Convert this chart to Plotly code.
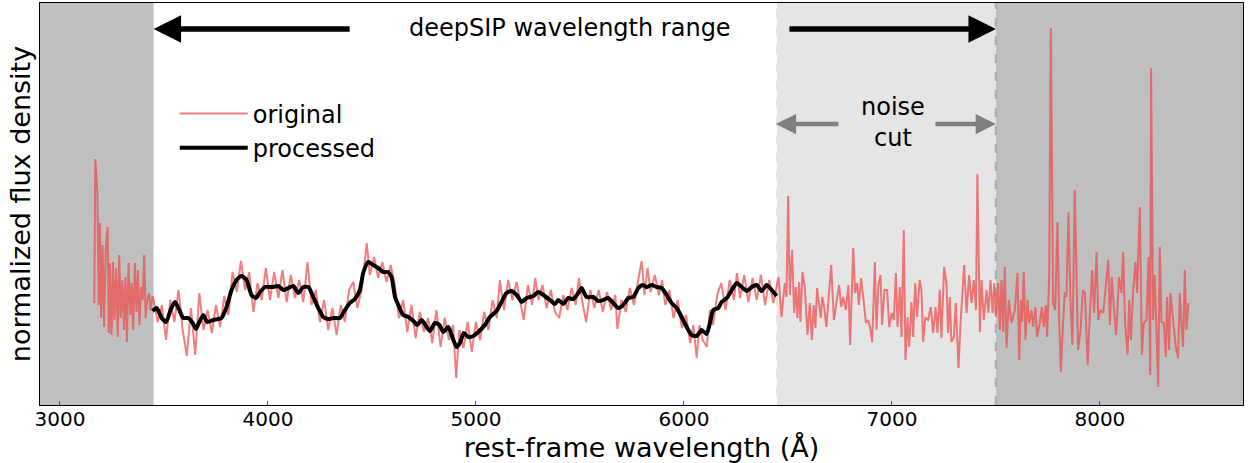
import plotly.graph_objects as go

# ---------------- data ----------------
orig_wave = [
    3165, 3170, 3180, 3186, 3192, 3198, 3205, 3212, 3220, 3229, 3235, 3240, 3248, 3255, 3262, 3270,
    3278, 3285, 3292, 3300, 3308, 3315, 3322, 3330, 3338, 3345, 3352, 3360, 3368, 3375, 3382, 3390,
    3398, 3405, 3412, 3420, 3428, 3435, 3445,
    3450, 3470, 3490, 3510, 3530, 3550, 3570, 3590, 3610, 3630, 3650, 3670, 3690, 3710, 3730, 3750,
    3770, 3790, 3810, 3830, 3850, 3870, 3890, 3910, 3930, 3950, 3970, 3990, 4010, 4030, 4050, 4070,
    4090, 4110, 4130, 4150, 4170, 4190, 4210, 4230, 4250, 4270, 4290, 4310, 4330, 4350, 4370, 4390,
    4410, 4430, 4450, 4465, 4475, 4490, 4510, 4530, 4550, 4570, 4590, 4610, 4630, 4650, 4670, 4690,
    4710, 4730, 4750, 4770, 4790, 4810, 4830, 4850, 4870, 4890, 4905, 4920, 4940, 4960, 4980, 5000,
    5020, 5040, 5060, 5080, 5100, 5115, 5135, 5155, 5175, 5195, 5215, 5230, 5250, 5270, 5285, 5300,
    5320, 5340, 5360, 5380, 5400, 5420, 5440, 5460, 5480, 5495, 5510, 5530, 5550, 5570, 5590, 5610,
    5630, 5650, 5670, 5680, 5700, 5720, 5740, 5760, 5780, 5797, 5810, 5825, 5840, 5860, 5880, 5895,
    5910, 5930, 5950, 5970, 5990, 6010, 6030, 6045, 6061, 6075, 6090, 6110, 6125, 6140, 6160, 6180,
    6200, 6220, 6240, 6255, 6270, 6290, 6310, 6330, 6350, 6370, 6390, 6410, 6430, 6442,
    6455, 6469, 6485, 6493, 6501, 6509, 6520, 6530, 6538, 6546, 6554, 6560, 6570, 6581, 6594, 6605,
    6615, 6624, 6632, 6640, 6650, 6658, 6665, 6674, 6685, 6696, 6708, 6721, 6733, 6746, 6756, 6765,
    6778, 6791, 6799, 6814, 6823, 6833, 6841, 6852, 6865, 6875, 6886, 6897, 6905, 6918, 6926, 6935,
    6945, 6953, 6964, 6977, 6987, 6999, 7009, 7019, 7027, 7038, 7046, 7057, 7065, 7075, 7083, 7094,
    7102, 7112, 7121, 7133, 7142, 7150, 7160, 7174, 7187, 7198, 7210, 7219, 7230, 7238, 7251, 7262,
    7270, 7278, 7286, 7298, 7307, 7320, 7331, 7347, 7359, 7371, 7383, 7394, 7404, 7411, 7423, 7431,
    7442, 7455, 7464, 7474, 7484, 7492, 7500, 7511, 7519, 7527, 7535, 7543, 7551, 7562, 7575, 7591,
    7604, 7612, 7620, 7626, 7634, 7642, 7652, 7660, 7671, 7679, 7690, 7698, 7711, 7721, 7730, 7740,
    7746, 7756, 7764, 7775, 7785, 7796, 7804, 7812, 7823, 7831, 7839, 7849, 7858, 7868, 7879, 7887,
    7895, 7907, 7918, 7928, 7941, 7952, 7963, 7972, 7984, 7992, 8003, 8016, 8027, 8040, 8048, 8057,
    8067, 8078, 8092, 8104, 8112, 8121, 8133, 8141, 8149, 8160, 8171, 8179, 8192, 8202, 8211, 8224,
    8234, 8242, 8246, 8256, 8264, 8272, 8280, 8288, 8296, 8307, 8317, 8323, 8333, 8339, 8352, 8365,
    8376, 8384, 8392, 8400, 8408, 8416, 8426,
]
orig_flux = [
    1.02, 2.46, 2.13, 1.00, 1.82, 0.87, 1.60, 0.78, 1.55, 1.78, 0.72, 1.42, 0.70, 1.43, 0.85, 1.37,
    0.68, 1.50, 0.87, 1.25, 0.75, 1.28, 0.63, 1.42, 0.90, 1.22, 0.75, 1.42, 0.93, 1.35, 0.80, 1.18,
    1.05, 1.50, 0.87, 1.05, 1.12, 0.95, 1.09,
    1.05, 0.83, 1.00, 0.65, 1.05, 0.83, 1.15, 0.75, 0.49, 0.97, 0.50, 1.12, 0.75, 0.95, 0.72, 1.00,
    0.78, 1.09, 0.90, 1.33, 1.13, 1.44, 1.15, 1.33, 0.93, 1.22, 1.05, 1.37, 1.05, 1.33, 1.07, 1.35,
    1.03, 1.30, 1.07, 1.25, 1.03, 1.43, 1.00, 1.15, 0.83, 1.05, 0.75, 0.97, 0.70, 1.00, 0.83, 1.15,
    1.23, 0.97, 1.15, 1.43, 1.62, 1.30, 1.48, 1.27, 1.43, 1.23, 1.40, 1.20, 0.87, 1.05, 0.73, 1.00,
    0.67, 0.93, 0.73, 0.87, 0.62, 0.95, 0.58, 0.87, 0.65, 0.80, 0.27, 0.75, 0.57, 0.83, 0.53, 0.83,
    0.65, 0.93, 0.75, 1.05, 0.87, 1.25, 0.95, 1.25, 1.05, 1.23, 1.00, 0.85, 1.20, 1.00, 1.27, 1.05,
    1.20, 0.97, 1.15, 0.93, 0.87, 1.10, 0.95, 1.17, 1.00, 1.27, 1.05, 0.83, 1.15, 0.97, 1.15, 0.93,
    1.13, 0.95, 1.10, 0.76, 1.05, 0.93, 1.17, 1.00, 1.25, 1.44, 1.10, 1.37, 1.13, 1.30, 1.10, 1.25,
    1.00, 1.15, 0.87, 1.05, 0.77, 0.90, 0.62, 0.80, 0.47, 0.80, 0.65, 0.58, 0.95, 0.80, 1.10, 1.22,
    0.95, 1.25, 1.05, 1.32, 1.07, 1.30, 1.03, 1.27, 1.05, 1.30, 1.00, 1.25, 1.02, 1.15,
    1.28, 0.88, 1.22, 1.08, 2.09, 1.10, 1.55, 0.92, 1.18, 0.87, 1.23, 0.83, 1.33, 1.18, 0.70, 1.02,
    0.65, 1.00, 0.77, 1.17, 0.98, 0.87, 1.08, 0.98, 0.78, 1.12, 1.40, 0.85, 1.02, 1.20, 0.98, 1.08,
    0.95, 1.20, 0.60, 1.57, 1.12, 1.22, 1.00, 1.27, 1.02, 0.82, 0.85, 0.75, 0.63, 1.43, 0.75, 1.20,
    1.30, 0.80, 1.15, 1.15, 0.78, 0.92, 0.85, 1.32, 0.78, 1.18, 0.68, 1.75, 0.45, 0.88, 0.58, 1.03,
    0.68, 1.22, 0.88, 1.25, 1.15, 0.63, 0.87, 0.85, 0.98, 0.72, 0.98, 0.72, 1.15, 0.67, 1.38, 1.22,
    0.72, 1.08, 0.63, 0.68, 1.02, 0.37, 0.85, 1.40, 0.92, 1.30, 1.02, 1.25, 0.95, 2.31, 0.73, 1.25,
    0.85, 1.15, 0.92, 1.25, 0.92, 1.22, 0.88, 1.22, 0.75, 1.25, 0.73, 1.38, 0.57, 1.05, 0.82, 0.95,
    1.32, 0.45, 1.05, 0.83, 1.33, 0.65, 1.05, 0.82, 0.95, 0.78, 0.98, 0.68, 0.82, 0.98, 0.78, 1.00,
    0.68, 1.28, 3.77, 1.02, 0.95, 1.83, 0.88, 0.33, 0.82, 1.13, 1.08, 1.93, 1.08, 0.60, 2.15, 1.15,
    0.55, 0.75, 1.15, 1.12, 0.40, 0.92, 1.35, 0.92, 1.53, 0.85, 0.95, 0.92, 1.15, 1.45, 0.80, 1.28,
    0.98, 0.70, 1.28, 1.12, 1.53, 0.82, 0.50, 1.05, 0.65, 1.15, 1.43, 1.12, 1.98, 0.50, 0.82, 0.85,
    1.48, 0.30, 3.37, 0.85, 1.30, 0.83, 0.18, 1.58, 0.83, 0.82, 0.48, 1.08, 0.55, 1.12, 0.82, 0.58,
    0.47, 1.12, 0.82, 0.58, 1.35, 0.75, 1.02,
]

proc_wave = [
    3445, 3465, 3489, 3510, 3532, 3553, 3574, 3593, 3617, 3638, 3654, 3670, 3689, 3708, 3737, 3777,
    3801, 3825, 3849, 3873, 3897, 3921, 3942, 3962, 3986, 4026, 4050, 4074, 4098, 4122, 4146, 4170,
    4194, 4218, 4242, 4266, 4290, 4314, 4346, 4370, 4394, 4418, 4442, 4458, 4482, 4506, 4530, 4554,
    4578, 4594, 4611, 4627, 4650, 4675, 4699, 4718, 4739, 4763, 4779, 4803, 4824, 4843, 4867, 4888,
    4907, 4923, 4942, 4963, 4987, 5011, 5043, 5067, 5099, 5123, 5147, 5171, 5196, 5220, 5244, 5276,
    5300, 5324, 5356, 5380, 5396, 5420, 5444, 5468, 5492, 5508, 5532, 5564, 5588, 5612, 5636, 5660,
    5684, 5708, 5733, 5757, 5781, 5801, 5821, 5845, 5869, 5893, 5917, 5941, 5965, 5989, 6013, 6037,
    6061, 6085, 6109, 6125, 6141, 6165, 6181, 6206, 6230, 6254, 6278, 6302, 6326, 6350, 6374, 6398,
    6422, 6446,
]
proc_flux = [
    0.94, 0.97, 0.87, 0.83, 0.95, 1.03, 0.95, 0.87, 0.87, 0.82, 0.76, 0.83, 0.90, 0.83, 0.85, 0.87,
    0.98, 1.15, 1.25, 1.29, 1.25, 1.10, 1.07, 1.13, 1.18, 1.18, 1.19, 1.15, 1.17, 1.19, 1.12, 1.18,
    1.18, 1.08, 0.97, 0.88, 0.86, 0.87, 0.87, 0.95, 1.02, 1.06, 1.15, 1.32, 1.43, 1.40, 1.37, 1.33,
    1.33, 1.28, 1.08, 1.00, 0.90, 0.88, 0.84, 0.80, 0.85, 0.78, 0.74, 0.82, 0.80, 0.73, 0.78, 0.67,
    0.58, 0.62, 0.72, 0.68, 0.69, 0.73, 0.80, 0.88, 0.94, 1.03, 1.12, 1.14, 1.10, 1.03, 1.07, 1.09,
    1.13, 1.10, 1.05, 1.01, 1.05, 1.01, 1.07, 1.06, 1.12, 1.17, 1.08, 1.08, 1.04, 1.05, 1.07, 1.02,
    0.97, 1.00, 1.07, 1.08, 1.17, 1.20, 1.18, 1.20, 1.18, 1.17, 1.10, 1.02, 0.97, 0.88, 0.78, 0.70,
    0.69, 0.75, 0.71, 0.82, 0.95, 0.97, 1.03, 1.07, 1.15, 1.22, 1.18, 1.14, 1.18, 1.20, 1.14, 1.20,
    1.15, 1.09,
]

x_range = [2904, 8688]
y_range = [0, 4.02]
deepsip_min, deepsip_max = 3450, 7500
noise_cut_start = 6442

FONT = "DejaVu Sans, Verdana, sans-serif"

fig = go.Figure()
fig.add_trace(go.Scatter(
    x=orig_wave, y=orig_flux, mode="lines", name="original",
    line=dict(color="rgba(240,70,70,0.7)", width=2),
))
fig.add_trace(go.Scatter(
    x=proc_wave, y=proc_flux, mode="lines", name="processed",
    line=dict(color="black", width=4, shape="spline", smoothing=0.6),
))

shapes = [
    dict(type="rect", xref="x", yref="paper", x0=x_range[0], x1=deepsip_min, y0=0, y1=1,
         fillcolor="#bfbfbf", line_width=0, layer="below"),
    dict(type="rect", xref="x", yref="paper", x0=deepsip_max, x1=x_range[1], y0=0, y1=1,
         fillcolor="#bfbfbf", line_width=0, layer="below"),
    dict(type="rect", xref="x", yref="paper", x0=noise_cut_start, x1=deepsip_max, y0=0, y1=1,
         fillcolor="#e5e5e5", line_width=0, layer="below"),
    dict(type="line", xref="x", yref="paper", x0=noise_cut_start, x1=noise_cut_start, y0=0, y1=1,
         line=dict(color="white", width=2.5, dash="dash"), layer="below"),
    dict(type="line", xref="x", yref="paper", x0=deepsip_max, x1=deepsip_max, y0=0, y1=1,
         line=dict(color="#b0b0b0", width=2.5, dash="dash"), layer="below"),
]

annotations = [
    # deepSIP range arrows
    dict(x=deepsip_min, y=3.76, ax=4400, ay=3.76, xref="x", yref="y", axref="x", ayref="y",
         text="", showarrow=True, arrowhead=2, arrowsize=1.0, arrowwidth=5.5, arrowcolor="black"),
    dict(x=deepsip_max, y=3.76, ax=6500, ay=3.76, xref="x", yref="y", axref="x", ayref="y",
         text="", showarrow=True, arrowhead=2, arrowsize=1.0, arrowwidth=5.5, arrowcolor="black"),
    dict(x=5452, y=3.77, xref="x", yref="y", text="deepSIP wavelength range", showarrow=False,
         font=dict(size=24, color="black", family=FONT)),
    # noise cut arrows
    dict(x=noise_cut_start, y=2.81, ax=6750, ay=2.81, xref="x", yref="y", axref="x", ayref="y",
         text="", showarrow=True, arrowhead=2, arrowsize=0.9, arrowwidth=4.5, arrowcolor="#808080"),
    dict(x=deepsip_max, y=2.81, ax=7202, ay=2.81, xref="x", yref="y", axref="x", ayref="y",
         text="", showarrow=True, arrowhead=2, arrowsize=0.9, arrowwidth=4.5, arrowcolor="#808080"),
    dict(x=7005, y=2.83, xref="x", yref="y", text="noise<br>cut", showarrow=False,
         font=dict(size=24, color="black", family=FONT)),
]

fig.update_layout(
    width=1248, height=463,
    margin=dict(l=40, r=5, t=3, b=58),
    paper_bgcolor="white", plot_bgcolor="white",
    font=dict(family=FONT, color="black"),
    shapes=shapes, annotations=annotations,
    showlegend=True,
    legend=dict(x=0.112, y=0.78, xanchor="left", yanchor="top", bgcolor="rgba(0,0,0,0)",
                font=dict(size=24, family=FONT), itemwidth=68, tracegroupgap=0),
    xaxis=dict(
        range=x_range, showgrid=False, zeroline=False,
        tickvals=[3000, 4000, 5000, 6000, 7000, 8000],
        ticks="inside", ticklen=4, tickwidth=1.3, tickcolor="#555555",
        tickfont=dict(size=20, family=FONT), ticklabelstandoff=-4,
        showline=True, linecolor="black", linewidth=1.3, mirror=True,
        title=dict(text="rest-frame wavelength (Å)", font=dict(size=27, family=FONT), standoff=9),
        automargin=False,
    ),
    yaxis=dict(
        range=y_range, showgrid=False, zeroline=False, showticklabels=False, ticks="",
        showline=True, linecolor="black", linewidth=1.3, mirror=True,
        title=dict(text="normalized flux density", font=dict(size=27, family=FONT), standoff=0),
        automargin=False,
    ),
)

fig.write_html(
    "out.html",
    config={"displayModeBar": False},
    post_script="document.body.style.margin='0';document.body.style.overflow='hidden';",
)
